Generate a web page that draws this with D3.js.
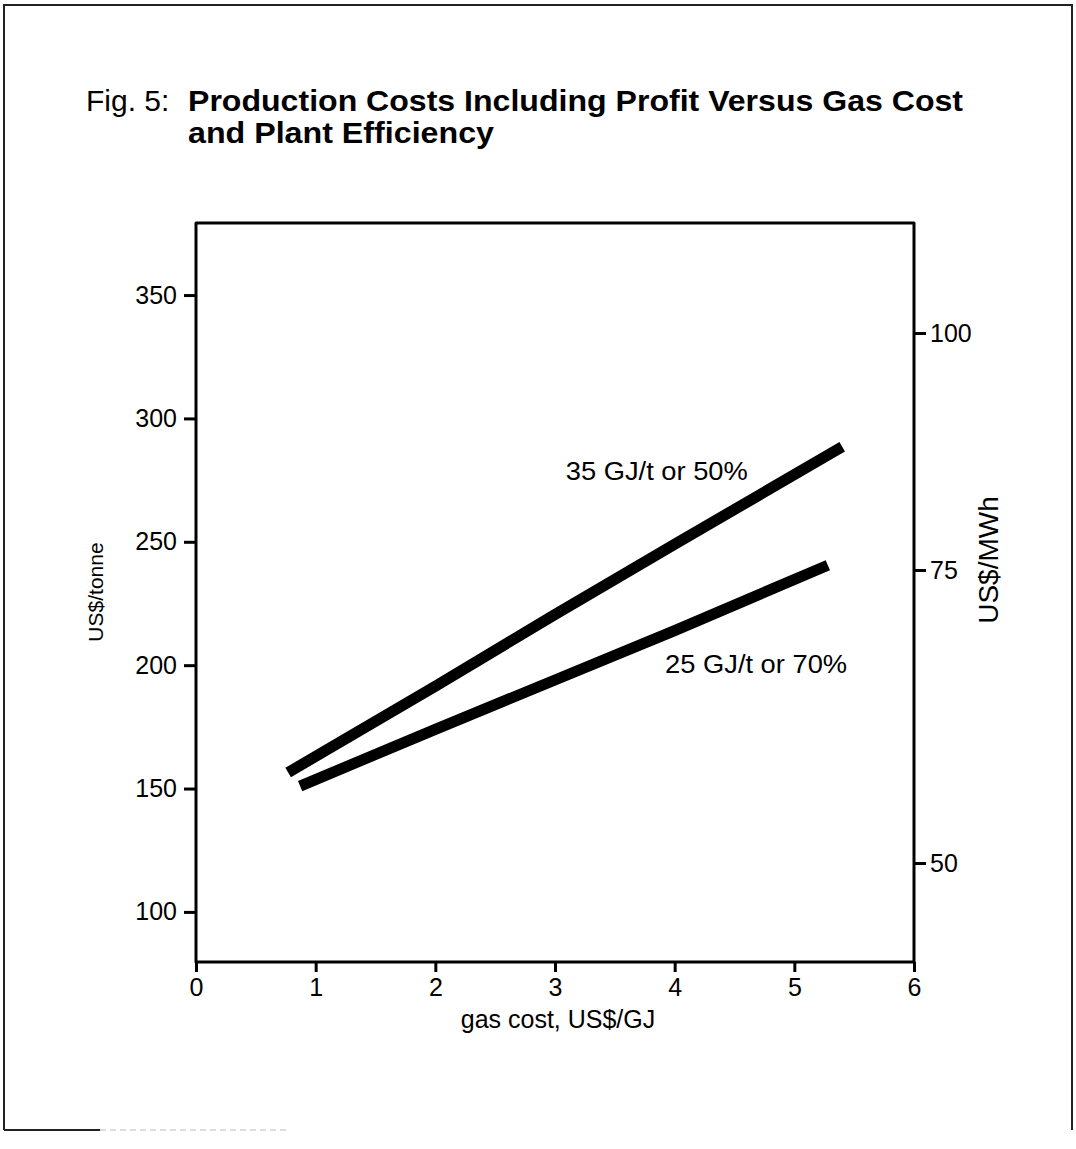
<!DOCTYPE html>
<html>
<head>
<meta charset="utf-8">
<script src="https://cdn.jsdelivr.net/npm/d3@7"></script>
<style>
  body { margin: 0; background: #fff; }
  svg { display: block; font-family: "Liberation Sans", Arial, Helvetica, sans-serif; }
</style>
</head>
<body>
<svg id="chart" width="1076" height="1149"></svg>
<script>
const WIDTH = 1076;
const HEIGHT = 1149;

// data (gas cost US$/GJ -> US$/tonne)
const upperLine = [[0.77, 156.5], [2, 191.5], [3, 220.5], [4, 249], [5.4, 288.5]];
const lowerLine = [[0.87, 151], [2, 174], [3, 194], [4, 214], [5.28, 240.5]];
const seriesLabels = ['35 GJ/t or 50%', '25 GJ/t or 70%'];
const labelPos = [[3.09, 275], [3.92, 197]];

const xTicks = [0, 1, 2, 3, 4, 5, 6];
const leftTicks = [100, 150, 200, 250, 300, 350];
const rightTicks = [50, 75, 100];

const svg = d3.select('#chart');

// scales fitted to the plot box
const x = d3.scaleLinear().domain([0, 6]).range([196, 914]);
const yLeft = d3.scaleLinear().domain([79.7, 379.2]).range([962, 223]);
// the right-hand scale on the original is not evenly spaced
const yRight = d3.scaleLinear().domain([50, 75, 100]).range([863, 570, 333]);

// page frame
svg.append('path')
  .attr('d', 'M4,1130 L4,5 L1072,5 L1072,1130')
  .attr('fill', 'none')
  .attr('stroke', '#222')
  .attr('stroke-width', 2);
svg.append('line')
  .attr('x1', 4).attr('x2', 100).attr('y1', 1130).attr('y2', 1130)
  .attr('stroke', '#222').attr('stroke-width', 2);
svg.append('line')
  .attr('x1', 100).attr('x2', 290).attr('y1', 1130).attr('y2', 1130)
  .attr('stroke', '#bbb').attr('stroke-width', 1).attr('stroke-dasharray', '6,4');

// title
const title = svg.append('g');
title.append('text')
  .attr('x', 86).attr('y', 111)
  .style('font-size', '30px')
  .text('Fig. 5:');
title.append('text')
  .attr('x', 188).attr('y', 111)
  .style('font-size', '30px')
  .style('font-weight', 'bold')
  .attr('textLength', 775)
  .attr('lengthAdjust', 'spacingAndGlyphs')
  .text('Production Costs Including Profit Versus Gas Cost');
title.append('text')
  .attr('x', 188).attr('y', 143)
  .style('font-size', '30px')
  .style('font-weight', 'bold')
  .attr('textLength', 306)
  .attr('lengthAdjust', 'spacingAndGlyphs')
  .text('and Plant Efficiency');

// axes (ticks only, the box is drawn below)
const styleAxis = (g, size) => {
  g.select('.domain').remove();
  g.selectAll('.tick line').attr('stroke', '#000').attr('stroke-width', 3);
  g.selectAll('.tick text').attr('fill', '#000').style('font-size', size);
};

svg.append('g')
  .attr('transform', `translate(${x(0)},0)`)
  .call(d3.axisLeft(yLeft).tickValues(leftTicks).tickFormat(d3.format('d')).tickSize(12).tickPadding(7))
  .call((g) => styleAxis(g, '25px'))
  .style('font-family', null);

svg.append('g')
  .attr('transform', `translate(${x(6)},0)`)
  .call(d3.axisRight(yRight).tickValues(rightTicks).tickFormat(d3.format('d')).tickSize(12).tickPadding(4))
  .call((g) => styleAxis(g, '25px'))
  .style('font-family', null);

svg.append('g')
  .attr('transform', `translate(0,${yLeft(79.7)})`)
  .call(d3.axisBottom(x).tickValues(xTicks).tickFormat(d3.format('d')).tickSize(10).tickPadding(6))
  .call((g) => styleAxis(g, '25px'))
  .style('font-family', null);

// plot box
const [yBottom, yTop] = yLeft.range();
svg.append('path')
  .attr('d', `M${x(0)},${yTop} L${x(0)},${yBottom} L${x(6)},${yBottom} L${x(6)},${yTop} Z`)
  .attr('fill', 'none')
  .attr('stroke', '#000')
  .attr('stroke-width', 3)
  .attr('stroke-linejoin', 'round');

// axis titles
svg.append('text')
  .attr('transform', 'translate(103,592) rotate(-90)')
  .attr('text-anchor', 'middle')
  .style('font-size', '21px')
  .text('US$/tonne');

svg.append('text')
  .attr('transform', 'translate(998,560) rotate(-90)')
  .attr('text-anchor', 'middle')
  .style('font-size', '28px')
  .text('US$/MWh');

svg.append('text')
  .attr('x', 558).attr('y', 1028)
  .attr('text-anchor', 'middle')
  .style('font-size', '25px')
  .text('gas cost, US$/GJ');

// the two cost lines
const line = d3.line()
  .x((d) => x(d[0]))
  .y((d) => yLeft(d[1]));

svg.selectAll('path.series')
  .data([upperLine, lowerLine])
  .enter()
  .append('path')
  .attr('class', 'series')
  .attr('d', line)
  .attr('fill', 'none')
  .attr('stroke', '#000')
  .attr('stroke-width', 11)
  .attr('stroke-linecap', 'butt');

svg.selectAll('text.series-label')
  .data(seriesLabels)
  .enter()
  .append('text')
  .attr('class', 'series-label')
  .attr('x', (d, i) => x(labelPos[i][0]))
  .attr('y', (d, i) => yLeft(labelPos[i][1]))
  .attr('textLength', 182)
  .attr('lengthAdjust', 'spacingAndGlyphs')
  .style('font-size', '26px')
  .text((d) => d);
</script>
</body>
</html>
